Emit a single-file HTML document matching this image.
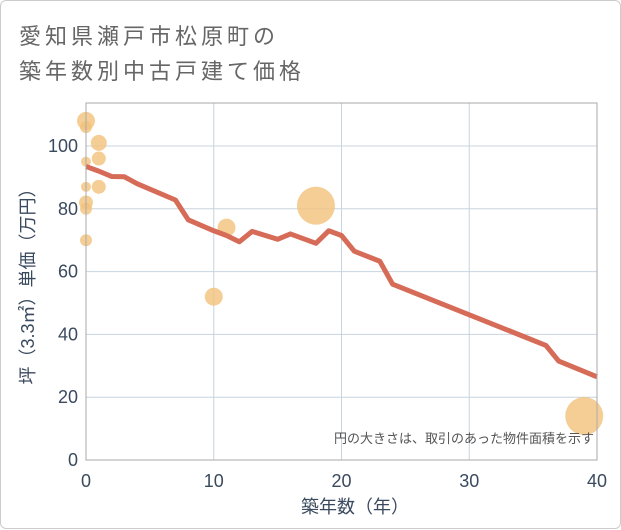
<!DOCTYPE html>
<html><head><meta charset="utf-8"><style>
body{margin:0;background:#fff;}
#card{position:absolute;left:0;top:0;width:619px;height:527px;border:1px solid #ccc;border-radius:6px;background:#fff;}
.title{position:absolute;left:18px;font:22px "Liberation Sans","Noto Sans CJK JP",sans-serif;color:#666;letter-spacing:4px;}
svg text{font-family:"Liberation Sans","Noto Sans CJK JP",sans-serif;}
</style></head><body>
<div id="card">
<div class="title" style="top:18px">愛知県瀬戸市松原町の</div>
<div class="title" style="top:53px">築年数別中古戸建て価格</div>
</div>
<svg id="chart" width="621" height="530" style="position:absolute;left:0;top:0"></svg>
<script>
const xTicks=[0,10,20,30,40];
const yTicks=[0,20,40,60,80,100];
const lineAges=[0,1,2,3,4,7,8,10,11,12,13,15,16,18,19,20,21,23,24,36,37,40];
const linePrices=[93.5,92,90.3,90.2,88,82.8,76.5,73,71.5,69.5,72.8,70.3,72,69,73,71.5,66.5,63.3,56,36.5,31.5,26.5];
const bubbleAges=[0,0,0,0,0,0,0,1,1,1,10,11,18,39];
const bubblePrices=[108,106,95,87,82,80,70,101,96,87,52,74,81,14];
const bubbleSizes=[9,6,5,5,7,6,6,8,7,7,9,9,19,19];
const L=86,R=597,T=103,B=460;
const xs=v=>L+(v/40)*(R-L);
const ys=v=>B-v*3.14;
const svg=document.getElementById('chart');
const NS='http://www.w3.org/2000/svg';
function mk(t,a){const e=document.createElementNS(NS,t);for(const k in a)e.setAttribute(k,a[k]);svg.appendChild(e);return e;}
let e;
e=mk('rect',{x:L,y:T,width:R-L,height:B-T,fill:'#fff',stroke:'#aaa','stroke-width':1});


xTicks.forEach(t=>{
 if(t>0&&t<40){e=mk('line',{x1:xs(t),x2:xs(t),y1:T,y2:B,stroke:'#c8d4e0','stroke-width':1});
 
 }
 e=mk('text',{x:xs(t),y:B+27,'text-anchor':'middle','font-size':18,fill:'#3a4a5e'});e.textContent=t;
 
 
});
yTicks.forEach(t=>{
 if(t>0){e=mk('line',{x1:L,x2:R,y1:ys(t),y2:ys(t),stroke:'#c8d4e0','stroke-width':1});
 
 }
 e=mk('text',{x:L-8,y:ys(t)+6,'text-anchor':'end','font-size':18,fill:'#3a4a5e'});e.textContent=t;
 
 
});
bubbleAges.forEach((a,i)=>{
 e=mk('circle',{cx:xs(a),cy:ys(bubblePrices[i]),r:bubbleSizes[i],fill:'#f3c27a','fill-opacity':0.8});
 
 
});
e=mk('polyline',{points:lineAges.map((a,i)=>xs(a)+','+ys(linePrices[i])).join(' '),fill:'none',stroke:'#d66b58','stroke-width':5,'stroke-linejoin':'round'});


e=mk('rect',{x:L,y:T,width:R-L,height:B-T,fill:'none',stroke:'#aaa','stroke-width':1});
e=mk('text',{x:594,y:443,'text-anchor':'end','font-size':13,fill:'#555'});e.textContent='円の大きさは、取引のあった物件面積を示す';


e=mk('text',{x:355,y:513,'text-anchor':'middle','font-size':18,fill:'#3a4a5e'});e.textContent='築年数（年）';


e=mk('text',{x:0,y:0,'text-anchor':'middle','font-size':18,fill:'#3a4a5e',transform:'translate(34,282) rotate(-90)'});e.textContent='坪（3.3㎡）単価（万円）';


</script>
</body></html>
